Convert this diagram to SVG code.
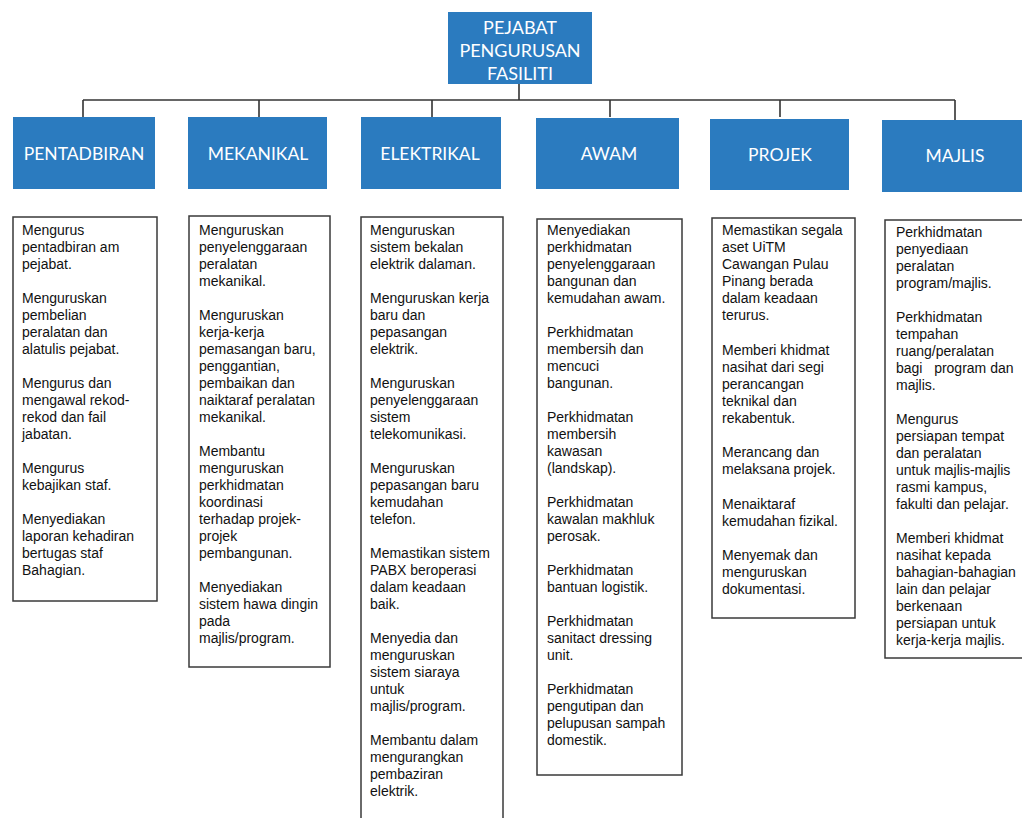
<svg xmlns="http://www.w3.org/2000/svg" width="1022" height="818" viewBox="0 0 1022 818">
  <style>
    .hdr { fill: #2b7bbf; }
    .hdr-t { font-family: Lato, "Liberation Sans", sans-serif; font-size: 17.5px; fill: #ffffff; text-anchor: middle; }
    .root-t { font-size: 18px; }
    .card { fill: #ffffff; stroke: #3a3a3a; stroke-width: 1.5; }
    .body { font-family: "Liberation Sans", Arial, sans-serif; font-size: 14px; fill: #111111; }
    .wire { fill: none; stroke: #333333; stroke-width: 1.6; }
  </style>
  <rect width="1022" height="818" fill="#ffffff"/>

  <!-- tree connectors -->
  <g id="connectors">
    <path class="wire" d="M519 84 V100"/>
    <path class="wire" d="M83 100 H955"/>
    <path class="wire" d="M83 100 V117 M259 100 V117 M432 100 V117 M610 100 V117 M780 100 V117 M955 100 V120"/>
  </g>

  <!-- root -->
  <g id="root">
    <rect class="hdr" x="448" y="12" width="144" height="72"/>
    <text class="hdr-t root-t" x="520" y="34">PEJABAT</text>
    <text class="hdr-t root-t" x="520" y="57">PENGURUSAN</text>
    <text class="hdr-t root-t" x="520" y="80">FASILITI</text>
  </g>

  <!-- unit headers -->
  <g id="pentadbiran">
    <rect class="hdr" x="13" y="117" width="142" height="72"/>
    <text class="hdr-t" x="84" y="160">PENTADBIRAN</text>
  </g>
  <g id="mekanikal">
    <rect class="hdr" x="188" y="117" width="139" height="72"/>
    <text class="hdr-t" x="258" y="160">MEKANIKAL</text>
  </g>
  <g id="elektrikal">
    <rect class="hdr" x="361" y="117" width="140" height="72"/>
    <text class="hdr-t" x="430" y="160">ELEKTRIKAL</text>
  </g>
  <g id="awam">
    <rect class="hdr" x="536" y="118" width="143" height="71"/>
    <text class="hdr-t" x="609" y="160">AWAM</text>
  </g>
  <g id="projek">
    <rect class="hdr" x="710" y="119" width="139" height="71"/>
    <text class="hdr-t" x="780" y="161">PROJEK</text>
  </g>
  <g id="majlis">
    <rect class="hdr" x="882" y="120" width="142" height="72"/>
    <text class="hdr-t" x="955" y="162">MAJLIS</text>
  </g>

  <!-- duty lists -->
  <g id="pentadbiran-tugas">
    <rect class="card" x="13" y="217" width="144" height="384"/>
    <text class="body">
      <tspan x="22" y="235">Mengurus</tspan>
      <tspan x="22" y="252">pentadbiran am</tspan>
      <tspan x="22" y="269">pejabat.</tspan>
      <tspan x="22" y="303">Menguruskan</tspan>
      <tspan x="22" y="320">pembelian</tspan>
      <tspan x="22" y="337">peralatan dan</tspan>
      <tspan x="22" y="354">alatulis pejabat.</tspan>
      <tspan x="22" y="388">Mengurus dan</tspan>
      <tspan x="22" y="405">mengawal rekod-</tspan>
      <tspan x="22" y="422">rekod dan fail</tspan>
      <tspan x="22" y="439">jabatan.</tspan>
      <tspan x="22" y="473">Mengurus</tspan>
      <tspan x="22" y="490">kebajikan staf.</tspan>
      <tspan x="22" y="524">Menyediakan</tspan>
      <tspan x="22" y="541">laporan kehadiran</tspan>
      <tspan x="22" y="558">bertugas staf</tspan>
      <tspan x="22" y="575">Bahagian.</tspan>
    </text>
  </g>

  <g id="mekanikal-tugas">
    <rect class="card" x="189" y="216" width="141" height="451"/>
    <text class="body">
      <tspan x="199" y="235">Menguruskan</tspan>
      <tspan x="199" y="252">penyelenggaraan</tspan>
      <tspan x="199" y="269">peralatan</tspan>
      <tspan x="199" y="286">mekanikal.</tspan>
      <tspan x="199" y="320">Menguruskan</tspan>
      <tspan x="199" y="337">kerja-kerja</tspan>
      <tspan x="199" y="354">pemasangan baru,</tspan>
      <tspan x="199" y="371">penggantian,</tspan>
      <tspan x="199" y="388">pembaikan dan</tspan>
      <tspan x="199" y="405">naiktaraf peralatan</tspan>
      <tspan x="199" y="422">mekanikal.</tspan>
      <tspan x="199" y="456">Membantu</tspan>
      <tspan x="199" y="473">menguruskan</tspan>
      <tspan x="199" y="490">perkhidmatan</tspan>
      <tspan x="199" y="507">koordinasi</tspan>
      <tspan x="199" y="524">terhadap projek-</tspan>
      <tspan x="199" y="541">projek</tspan>
      <tspan x="199" y="558">pembangunan.</tspan>
      <tspan x="199" y="592">Menyediakan</tspan>
      <tspan x="199" y="609">sistem hawa dingin</tspan>
      <tspan x="199" y="626">pada</tspan>
      <tspan x="199" y="643">majlis/program.</tspan>
    </text>
  </g>

  <g id="elektrikal-tugas">
    <rect class="card" x="361" y="217" width="142" height="610"/>
    <text class="body">
      <tspan x="370" y="235">Menguruskan</tspan>
      <tspan x="370" y="252">sistem bekalan</tspan>
      <tspan x="370" y="269">elektrik dalaman.</tspan>
      <tspan x="370" y="303">Menguruskan kerja</tspan>
      <tspan x="370" y="320">baru dan</tspan>
      <tspan x="370" y="337">pepasangan</tspan>
      <tspan x="370" y="354">elektrik.</tspan>
      <tspan x="370" y="388">Menguruskan</tspan>
      <tspan x="370" y="405">penyelenggaraan</tspan>
      <tspan x="370" y="422">sistem</tspan>
      <tspan x="370" y="439">telekomunikasi.</tspan>
      <tspan x="370" y="473">Menguruskan</tspan>
      <tspan x="370" y="490">pepasangan baru</tspan>
      <tspan x="370" y="507">kemudahan</tspan>
      <tspan x="370" y="524">telefon.</tspan>
      <tspan x="370" y="558">Memastikan sistem</tspan>
      <tspan x="370" y="575">PABX beroperasi</tspan>
      <tspan x="370" y="592">dalam keadaan</tspan>
      <tspan x="370" y="609">baik.</tspan>
      <tspan x="370" y="643">Menyedia dan</tspan>
      <tspan x="370" y="660">menguruskan</tspan>
      <tspan x="370" y="677">sistem siaraya</tspan>
      <tspan x="370" y="694">untuk</tspan>
      <tspan x="370" y="711">majlis/program.</tspan>
      <tspan x="370" y="745">Membantu dalam</tspan>
      <tspan x="370" y="762">mengurangkan</tspan>
      <tspan x="370" y="779">pembaziran</tspan>
      <tspan x="370" y="796">elektrik.</tspan>
    </text>
  </g>

  <g id="awam-tugas">
    <rect class="card" x="537" y="219" width="145" height="556"/>
    <text class="body">
      <tspan x="547" y="235">Menyediakan</tspan>
      <tspan x="547" y="252">perkhidmatan</tspan>
      <tspan x="547" y="269">penyelenggaraan</tspan>
      <tspan x="547" y="286">bangunan dan</tspan>
      <tspan x="547" y="303">kemudahan awam.</tspan>
      <tspan x="547" y="337">Perkhidmatan</tspan>
      <tspan x="547" y="354">membersih dan</tspan>
      <tspan x="547" y="371">mencuci</tspan>
      <tspan x="547" y="388">bangunan.</tspan>
      <tspan x="547" y="422">Perkhidmatan</tspan>
      <tspan x="547" y="439">membersih</tspan>
      <tspan x="547" y="456">kawasan</tspan>
      <tspan x="547" y="473">(landskap).</tspan>
      <tspan x="547" y="507">Perkhidmatan</tspan>
      <tspan x="547" y="524">kawalan makhluk</tspan>
      <tspan x="547" y="541">perosak.</tspan>
      <tspan x="547" y="575">Perkhidmatan</tspan>
      <tspan x="547" y="592">bantuan logistik.</tspan>
      <tspan x="547" y="626">Perkhidmatan</tspan>
      <tspan x="547" y="643">sanitact dressing</tspan>
      <tspan x="547" y="660">unit.</tspan>
      <tspan x="547" y="694">Perkhidmatan</tspan>
      <tspan x="547" y="711">pengutipan dan</tspan>
      <tspan x="547" y="728">pelupusan sampah</tspan>
      <tspan x="547" y="745">domestik.</tspan>
    </text>
  </g>

  <g id="projek-tugas">
    <rect class="card" x="712" y="218" width="143" height="400"/>
    <text class="body">
      <tspan x="722" y="235">Memastikan segala</tspan>
      <tspan x="722" y="252">aset UiTM</tspan>
      <tspan x="722" y="269">Cawangan Pulau</tspan>
      <tspan x="722" y="286">Pinang berada</tspan>
      <tspan x="722" y="303">dalam keadaan</tspan>
      <tspan x="722" y="320">terurus.</tspan>
      <tspan x="722" y="355">Memberi khidmat</tspan>
      <tspan x="722" y="372">nasihat dari segi</tspan>
      <tspan x="722" y="389">perancangan</tspan>
      <tspan x="722" y="406">teknikal dan</tspan>
      <tspan x="722" y="423">rekabentuk.</tspan>
      <tspan x="722" y="457">Merancang dan</tspan>
      <tspan x="722" y="474">melaksana projek.</tspan>
      <tspan x="722" y="509">Menaiktaraf</tspan>
      <tspan x="722" y="526">kemudahan fizikal.</tspan>
      <tspan x="722" y="560">Menyemak dan</tspan>
      <tspan x="722" y="577">menguruskan</tspan>
      <tspan x="722" y="594">dokumentasi.</tspan>
    </text>
  </g>

  <g id="majlis-tugas">
    <rect class="card" x="885" y="220" width="145" height="438"/>
    <text class="body">
      <tspan x="896" y="237">Perkhidmatan</tspan>
      <tspan x="896" y="254">penyediaan</tspan>
      <tspan x="896" y="271">peralatan</tspan>
      <tspan x="896" y="288">program/majlis.</tspan>
      <tspan x="896" y="322">Perkhidmatan</tspan>
      <tspan x="896" y="339">tempahan</tspan>
      <tspan x="896" y="356">ruang/peralatan</tspan>
      <tspan x="896" y="373">bagi&#160;&#160; program dan</tspan>
      <tspan x="896" y="390">majlis.</tspan>
      <tspan x="896" y="424">Mengurus</tspan>
      <tspan x="896" y="441">persiapan tempat</tspan>
      <tspan x="896" y="458">dan peralatan</tspan>
      <tspan x="896" y="475">untuk majlis-majlis</tspan>
      <tspan x="896" y="492">rasmi kampus,</tspan>
      <tspan x="896" y="509">fakulti dan pelajar.</tspan>
      <tspan x="896" y="543">Memberi khidmat</tspan>
      <tspan x="896" y="560">nasihat kepada</tspan>
      <tspan x="896" y="577">bahagian-bahagian</tspan>
      <tspan x="896" y="594">lain dan pelajar</tspan>
      <tspan x="896" y="611">berkenaan</tspan>
      <tspan x="896" y="628">persiapan untuk</tspan>
      <tspan x="896" y="645">kerja-kerja majlis.</tspan>
    </text>
  </g>
</svg>
